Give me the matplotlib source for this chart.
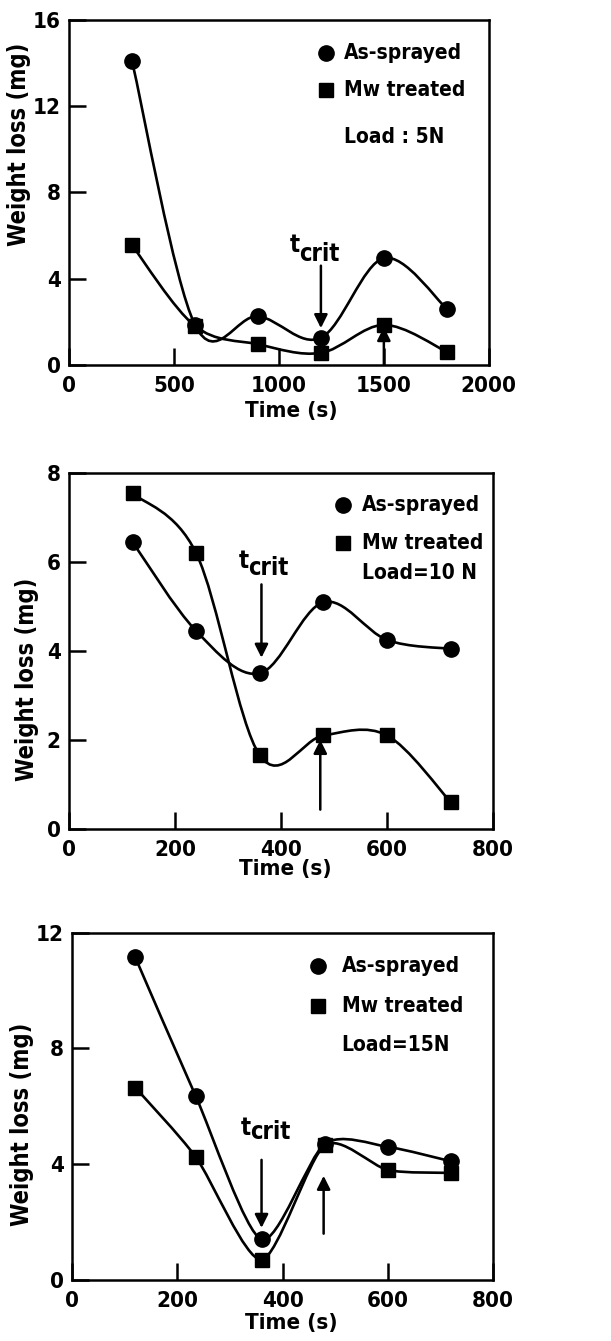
import matplotlib
matplotlib.use("Agg")
import matplotlib.pyplot as plt
from matplotlib.path import Path
from matplotlib.patches import PathPatch
import numpy as np

plt.rcParams['font.family'] = ['DejaVu Sans']
plt.rcParams['font.stretch'] = 'condensed'
plt.rcParams['font.weight'] = 'bold'
plt.rcParams['axes.labelweight'] = 'bold'

# Load 5 N
t_5n = [300, 600, 900, 1200, 1500, 1800]
sprayed_5n = [14.1, 1.85, 2.25, 1.25, 4.95, 2.6]
treated_5n = [5.55, 1.8, 0.95, 0.55, 1.85, 0.6]

# Load 10 N
t_10n = [120, 240, 360, 480, 600, 720]
sprayed_10n = [6.45, 4.45, 3.5, 5.1, 4.25, 4.05]
treated_10n = [7.55, 6.2, 1.65, 2.1, 2.1, 0.6]

# Load 15 N
t_15n = [120, 235, 360, 480, 600, 720]
sprayed_15n = [11.15, 6.35, 1.4, 4.7, 4.6, 4.1]
treated_15n = [6.65, 4.25, 0.7, 4.65, 3.8, 3.7]

LW = 1.9


def smooth_curve(ax, x, y, tension=1.0):
    # catmull-rom through the points, drawn as cubic bezier segments
    x = np.asarray(x, float)
    y = np.asarray(y, float)
    pts = np.column_stack([x, y])
    ext = np.vstack([pts[0], pts, pts[-1]])
    verts = [pts[0]]
    codes = [Path.MOVETO]
    for i in range(len(pts) - 1):
        p0, p1, p2, p3 = ext[i], ext[i + 1], ext[i + 2], ext[i + 3]
        c1 = p1 + tension * (p2 - p0) / 6.0
        c2 = p2 - tension * (p3 - p1) / 6.0
        verts += [c1, c2, p2]
        codes += [Path.CURVE4] * 3
    ax.add_patch(PathPatch(Path(verts, codes), fill=False, lw=LW,
                           edgecolor='black', capstyle='round'))


def panel(ax, t, sprayed, treated, xmax, ymax, xticks, yticks, load,
          leg, tcrit, up, labpos, tension=1.0):
    smooth_curve(ax, t, sprayed, tension)
    smooth_curve(ax, t, treated, tension)
    ax.plot(t, sprayed, 'o', color='black', ms=11, zorder=3)
    ax.plot(t, treated, 's', color='black', ms=10.5, zorder=3)

    ax.set_xlim(0, xmax)
    ax.set_ylim(0, ymax)
    ax.set_xticks(xticks)
    ax.set_yticks(yticks)
    ax.tick_params(direction='in', length=12, width=1.8, labelsize=16)
    ax.tick_params(axis='x', pad=8)
    ax.tick_params(axis='y', pad=6)
    for s in ax.spines.values():
        s.set_linewidth(1.8)
    ax.set_xlabel('Time (s)', fontsize=16)
    ax.set_ylabel('Weight loss (mg)', fontsize=17)
    xlx, xly, ylx, yly = labpos
    ax.xaxis.set_label_coords(xlx, xly)
    ax.yaxis.set_label_coords(ylx, yly)
    ax.yaxis.label.set_va('center')

    # legend drawn by hand
    lx, ly1, ly2, ly3, tx = leg
    ax.plot([lx], [ly1], 'o', color='black', ms=11, transform=ax.transAxes)
    ax.plot([lx], [ly2], 's', color='black', ms=10.5, transform=ax.transAxes)
    ax.text(tx, ly1, 'As-sprayed', transform=ax.transAxes, fontsize=15,
            va='center')
    ax.text(tx, ly2, 'Mw treated', transform=ax.transAxes, fontsize=15,
            va='center')
    ax.text(tx, ly3, load, transform=ax.transAxes, fontsize=15, va='center')

    # t crit marker
    cx, tx0, ctext, csub, ctop, cbot = tcrit
    ax.text(tx0, ctext, 't', fontsize=17, ha='left', va='bottom')
    ax.text(tx0 + xmax * 0.023, ctext - ymax * csub, 'crit', fontsize=17,
            ha='left', va='bottom')
    ax.annotate('', xy=(cx, cbot), xytext=(cx, ctop),
                arrowprops=dict(arrowstyle='-|>', lw=1.8, color='black',
                                mutation_scale=20, shrinkA=0, shrinkB=0))
    ux, ubot, utop = up
    ax.annotate('', xy=(ux, utop), xytext=(ux, ubot),
                arrowprops=dict(arrowstyle='-|>', lw=1.8, color='black',
                                mutation_scale=20, shrinkA=0, shrinkB=0))


fig = plt.figure(figsize=(6.11, 13.41), dpi=100)
ax1 = fig.add_axes([0.113, 0.728, 0.687, 0.257])
ax2 = fig.add_axes([0.113, 0.382, 0.694, 0.265])
ax3 = fig.add_axes([0.118, 0.0455, 0.689, 0.259])

panel(ax1, t_5n, sprayed_5n, treated_5n, 2000, 16,
      [0, 500, 1000, 1500, 2000], [0, 4, 8, 12, 16], 'Load : 5N',
      (0.613, 0.906, 0.797, 0.66, 0.656),
      (1200, 1050, 5.0, 0.025, 4.6, 1.7), (1500, 0.0, 1.75),
      (0.53, -0.105, -0.12, 0.64))
panel(ax2, t_10n, sprayed_10n, treated_10n, 800, 8,
      [0, 200, 400, 600, 800], [0, 2, 4, 6, 8], 'Load=10 N',
      (0.647, 0.911, 0.804, 0.72, 0.69),
      (363, 320, 5.75, 0.02, 5.5, 3.85), (474, 0.43, 2.0),
      (0.51, -0.085, -0.1, 0.42))
panel(ax3, t_15n, sprayed_15n, treated_15n, 800, 12,
      [0, 200, 400, 600, 800], [0, 4, 8, 12], 'Load=15N',
      (0.585, 0.904, 0.788, 0.677, 0.64),
      (360, 320, 4.85, 0.012, 4.15, 1.8), (478, 1.6, 3.6),
      (0.52, -0.095, -0.12, 0.447), tension=0.75)

fig.savefig('out.png', dpi=100)
